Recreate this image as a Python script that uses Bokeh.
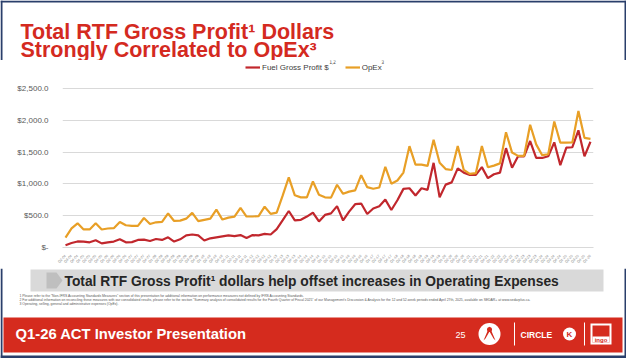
from math import pi
from bokeh.plotting import figure
from bokeh.layouts import column
from bokeh.models import (Range1d, FactorRange, FixedTicker, NumeralTickFormatter,
                          Legend, LegendItem, Label)
from bokeh.core.properties import value
from bokeh.embed import file_html
from bokeh.resources import INLINE

# ---------------- data ----------------
fiscal_years = ["04", "05", "06", "07", "08", "09", "10", "11", "12", "13", "14",
                "15", "16", "17", "18", "19", "20", "21", "22", "23", "24", "25", "26"]
quarters = ["Q1", "Q2", "Q3", "Q4"]
quarter_labels = [f"{q}-{fy}" for fy in fiscal_years for q in quarters][1:89]

fuel_gross_profit = [36, 70, 95, 93, 82, 113, 65, 82, 93, 129,
                     82, 85, 119, 124, 103, 134, 119, 160, 93, 129,
                     190, 205, 190, 110, 145, 160, 175, 190, 180, 195,
                     150, 195, 190, 215, 205, 290, 430, 575, 428, 436,
                     487, 550, 410, 513, 538, 651, 426, 564, 682, 692,
                     528, 615, 651, 754, 590, 744, 923, 933, 820, 933,
                     908, 1333, 790, 990, 1026, 1246, 1179, 1143, 1143, 1266,
                     1092, 1154, 1179, 1564, 1256, 1436, 1436, 1677, 1410, 1410,
                     1436, 1656, 1297, 1574, 1579, 1846, 1436, 1666]
opex = [155, 300, 381, 284, 284, 381, 284, 299, 304, 402,
        350, 340, 340, 464, 371, 397, 402, 536, 418, 423,
        454, 545, 415, 435, 455, 597, 440, 470, 485, 624,
        488, 488, 495, 643, 530, 548, 820, 1105, 822, 790,
        790, 1040, 830, 790, 785, 988, 845, 880, 900, 1139,
        950, 925, 945, 1270, 1005, 1055, 1180, 1595, 1305, 1305,
        1285, 1697, 1335, 1235, 1220, 1598, 1222, 1160, 1170, 1598,
        1263, 1289, 1325, 1815, 1495, 1443, 1443, 1933, 1624, 1454,
        1469, 1985, 1650, 1650, 1655, 2150, 1727, 1711]
y_ticks = [0, 500, 1000, 1500, 2000, 2500]

series_names = ["Fuel Gross Profit $", "OpEx"]
series_notes = ["1,2", "3"]

title_lines = ["Total RTF Gross Profit\u00b9 Dollars", "Strongly Correlated to OpEx\u00b3"]
banner_text = "Total RTF Gross Profit\u00b9 dollars help offset increases in Operating Expenses"
footnotes = [
    "1 Please refer to the \u201cNon-IFRS Accounting Standards Measures\u201d section of this presentation for additional information on performance measures not defined by IFRS Accounting Standards.",
    "2 For additional information on reconciling these measures with our consolidated results, please refer to the section \u201cSummary analysis of consolidated results for the Fourth Quarter of Fiscal 2025\u201d of our Management\u2019s Discussion & Analysis for the 12 and 52-week periods ended April 27th, 2025, available on SEDAR+ at www.sedarplus.ca.",
    "3 Operating, selling, general and administrative expenses (OpEx).",
]
footer_text = "Q1-26 ACT Investor Presentation"
page_number = "25"

FONT = "Liberation Sans"
VFONT = value(FONT)
RED_TITLE = "#d42a1f"
RED_BAR = "#d52b1e"
RED_LINE = "#c1272d"
ORANGE = "#e89f26"
NAVY = "#2a3f6b"
W, H = 626, 358


def deco_figure(y0, y1):
    f = figure(width=W, height=y1 - y0, x_range=Range1d(0, W), y_range=Range1d(y1, y0),
               min_border=0, toolbar_location=None, output_backend="svg",
               x_axis_location=None, y_axis_location=None)
    f.grid.visible = False
    f.outline_line_color = None
    if "frame_align" in f.properties():
        f.frame_align = False
    return f


# ---------------- header (page y 0..60) ----------------
head = deco_figure(0, 60)
head.quad(left=[0, 0, 624], right=[626, 2, 626], top=[0, 0, 0], bottom=[2, 60, 60],
          fill_color=NAVY, line_color=None)
head.text(x=[20, 20], y=[31.5, 49], text=title_lines, text_font=VFONT,
          text_font_style="bold", text_font_size="21.5px", text_color=RED_TITLE,
          text_baseline="middle")

# ---------------- chart (page y 60..268) ----------------
# frame: page x 62..593, page y 60..252 ; value 2500 sits at page y 89
y_top = 2500 + (89 - 60) * 2500 / (252 - 89)
p = figure(width=W, height=208,
           x_range=FactorRange(factors=quarter_labels, range_padding=0),
           y_range=Range1d(0, y_top),
           min_border_left=62, min_border_right=W - 593, min_border_top=0, min_border_bottom=16,
           toolbar_location=None, output_backend="svg")
if "frame_align" in p.properties():
    p.frame_align = False
p.outline_line_color = None
p.xgrid.visible = False
p.ygrid.grid_line_color = "#d9d9d9"
p.ygrid.grid_line_width = 1

p.yaxis.ticker = FixedTicker(ticks=y_ticks)
p.yaxis.formatter = NumeralTickFormatter(format="$0,0.0")
p.yaxis.major_label_overrides = {0: "$-"}
p.yaxis.axis_line_color = None
p.yaxis.major_tick_line_color = None
p.yaxis.minor_tick_line_color = None
p.yaxis.major_label_standoff = 8
p.yaxis.major_label_text_font = FONT
p.yaxis.major_label_text_font_size = "8px"
p.yaxis.major_label_text_color = "#595959"

p.xaxis.major_label_orientation = pi / 4
p.xaxis.major_label_text_font = FONT
p.xaxis.major_label_text_font_size = "3.5px"
p.xaxis.major_label_text_color = "#7f7f7f"
p.xaxis.major_tick_line_color = None
p.xaxis.axis_line_color = "#d9d9d9"
p.xaxis.major_label_standoff = 2

r_fuel = p.line(x=quarter_labels, y=fuel_gross_profit, line_color=RED_LINE, line_width=2.2)
r_opex = p.line(x=quarter_labels, y=opex, line_color=ORANGE, line_width=2.2)

legend = Legend(items=[LegendItem(label=series_names[0], renderers=[r_fuel]),
                       LegendItem(label=series_names[1], renderers=[r_opex])],
                orientation="horizontal", location=(245 - 62, 252 - 77),
                padding=0, margin=0, spacing=16, glyph_width=15, glyph_height=10,
                label_height=10, label_standoff=2,
                label_text_font=FONT, label_text_font_size="8px",
                label_text_color="#404040",
                border_line_color=None, background_fill_alpha=0)
p.add_layout(legend, "center")
p.add_layout(Label(x=329 - 62, y=252 - 66, x_units="screen", y_units="screen",
                   text=series_notes[0], text_font=FONT, text_font_size="4.5px",
                   text_color="#404040", text_baseline="middle"))
p.add_layout(Label(x=381 - 62, y=252 - 66, x_units="screen", y_units="screen",
                   text=series_notes[1], text_font=FONT, text_font_size="4.5px",
                   text_color="#404040", text_baseline="middle"))

# ---------------- footer (page y 268..358) ----------------
foot = deco_figure(268, 358)
foot.quad(left=[0, 624, 0], right=[2, 626, 626], top=[268, 268, 355], bottom=[358, 358, 358],
          fill_color=NAVY, line_color=None)
# banner
foot.quad(left=[30], right=[603], top=[269], bottom=[291], fill_color="#d9d9d9", line_color=None)
foot.patch(x=[46, 56, 62, 56, 46], y=[272, 272, 280, 288, 288], fill_color="#bfbfbf", line_color=None)
foot.text(x=[64], y=[280.5], text=[banner_text], text_font=VFONT, text_font_style="bold",
          text_font_size="13.8px", text_color="#262626", text_baseline="middle")
# footnotes
foot.text(x=[19, 19, 19], y=[295.5, 299.5, 303.7], text=footnotes, text_font=VFONT,
          text_font_size="3.4px", text_color="#595959", text_baseline="middle")
# red footer bar
foot.quad(left=[3], right=[622], top=[317], bottom=[352], fill_color=RED_BAR, line_color=None)
foot.text(x=[15], y=[333.5], text=[footer_text], text_font=VFONT, text_font_style="bold",
          text_font_size="14.8px", text_color="white", text_baseline="middle")
foot.text(x=[455], y=[334], text=[page_number], text_font=VFONT,
          text_font_size="9px", text_color="white", text_baseline="middle")
# logos
foot.ellipse(x=[489], y=[333.5], width=22, height=22, fill_color="white", line_color=None)
foot.patch(x=[483, 489, 495, 493, 489, 485], y=[340, 326, 340, 338, 331, 338],
           fill_color=RED_BAR, line_color=None)
foot.ellipse(x=[489], y=[329], width=5, height=5, fill_color=RED_BAR, line_color=None)
foot.segment(x0=[514, 584], y0=[322, 322], x1=[514, 584], y1=[345, 345], line_color="white", line_width=1)
foot.text(x=[520], y=[334], text=["CIRCLE"], text_font=VFONT, text_font_style="bold",
          text_font_size="8.5px", text_color="white", text_baseline="middle")
foot.ellipse(x=[569], y=[333.5], width=13, height=13, fill_color="white", line_color=None)
foot.text(x=[569], y=[334], text=["K"], text_font=VFONT, text_font_style="bold",
          text_font_size="8px", text_color=RED_BAR, text_baseline="middle", text_align="center")
foot.quad(left=[590, 592], right=[611, 609], top=[323, 325], bottom=[344, 342],
          fill_color=["white", RED_BAR], line_color=None)
foot.quad(left=[592], right=[609], top=[336], bottom=[342], fill_color="white", line_color=None)
foot.text(x=[600.5], y=[339], text=["ingo"], text_font=VFONT, text_font_style="bold",
          text_font_size="6px", text_color=RED_BAR, text_baseline="middle", text_align="center")

layout = column(head, p, foot, spacing=0)
open("out.html", "w").write(file_html(layout, INLINE))
